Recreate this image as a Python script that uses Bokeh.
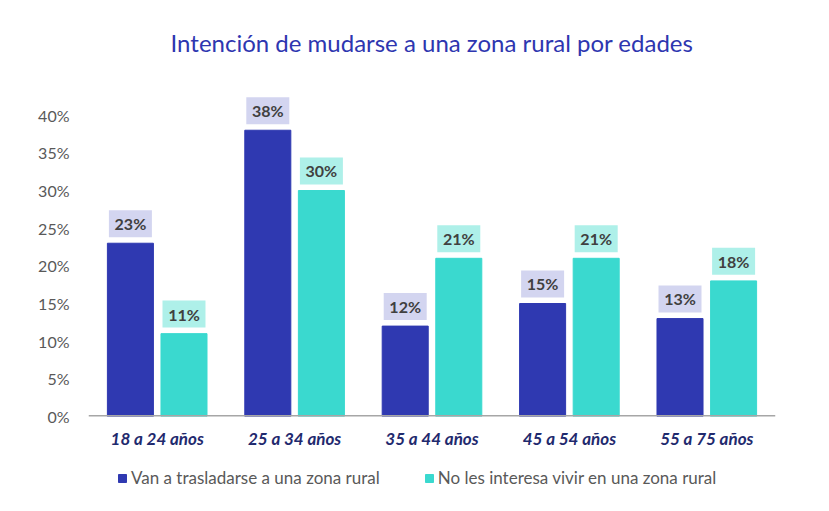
from bokeh.plotting import figure
from bokeh.layouts import column
from bokeh.models import ColumnDataSource, Legend, LegendItem, NumeralTickFormatter, FixedTicker, Title, Span
from bokeh.core.properties import value
from bokeh.embed import file_html
from bokeh.resources import INLINE

categories = ["18 a 24 años", "25 a 34 años", "35 a 44 años", "45 a 54 años", "55 a 75 años"]
van = [23, 38, 12, 15, 13]
no_interesa = [11, 30, 21, 21, 18]
series_names = ["Van a trasladarse a una zona rural", "No les interesa vivir en una zona rural"]
y_ticks = [0, 5, 10, 15, 20, 25, 30, 35, 40]
title_text = "Intención de mudarse a una zona rural por edades"

FONT = "Lato"
DARK = "#2F39B1"
TEAL = "#3AD9CF"
DARK_BOX = "#D3D5F0"
TEAL_BOX = "#AEF0E9"

idx = list(range(len(categories)))
off = 0.195
bw = 0.335
box_w = 0.313
lab_off = 0.026

p = figure(width=821, height=456, x_range=(-0.5, len(categories) - 0.5), y_range=(0, 0.45),
           output_backend="svg", toolbar_location=None,
           min_border_left=88, min_border_right=46, min_border_top=77, min_border_bottom=40)
p.frame_width = 687
p.frame_height = 339
p.outline_line_color = None
p.xgrid.visible = False
p.ygrid.visible = False

src1 = ColumnDataSource(dict(x=[i - off for i in idx], top=[v / 100 for v in van],
                             ly=[v / 100 + lab_off for v in van], txt=[f"{v}%" for v in van]))
src2 = ColumnDataSource(dict(x=[i + off for i in idx], top=[v / 100 for v in no_interesa],
                             ly=[v / 100 + lab_off for v in no_interesa], txt=[f"{v}%" for v in no_interesa]))

r1 = p.vbar(x="x", top="top", width=bw, source=src1, fill_color=DARK, line_color=DARK)
r2 = p.vbar(x="x", top="top", width=bw, source=src2, fill_color=TEAL, line_color=TEAL)

for src, col in ((src1, DARK_BOX), (src2, TEAL_BOX)):
    p.rect(x="x", y="ly", width=box_w, height=27, height_units="screen", source=src,
           fill_color=col, line_color=None)
    p.text(x="x", y="ly", text="txt", source=src, text_align="center", text_baseline="middle",
           text_font=value(FONT), text_font_style="bold", text_font_size="16px", text_color="#404040")

p.add_layout(Span(location=0, dimension="width", line_color="#A6A6A6", line_width=3))

p.yaxis.ticker = FixedTicker(ticks=[t / 100 for t in y_ticks])
p.yaxis.formatter = NumeralTickFormatter(format="0%")
p.yaxis.axis_line_color = None
p.yaxis.major_tick_line_color = None
p.yaxis.minor_tick_line_color = None
p.yaxis.major_label_text_font = FONT
p.yaxis.major_label_text_font_size = "16px"
p.yaxis.major_label_text_color = "#595959"
p.yaxis.major_label_standoff = 13

p.xaxis.ticker = FixedTicker(ticks=idx)
p.xaxis.major_label_overrides = {i: c for i, c in zip(idx, categories)}
p.xaxis.axis_line_color = None
p.xaxis.major_tick_line_color = None
p.xaxis.minor_tick_line_color = None
p.xaxis.major_label_text_font = FONT
p.xaxis.major_label_text_font_size = "17px"
p.xaxis.major_label_text_font_style = "bold italic"
p.xaxis.major_label_text_color = "#1F2A6E"
p.xaxis.major_label_standoff = 5

p.add_layout(Title(text=title_text, align="center", text_font=FONT, text_font_size="24px",
                   text_font_style="normal", text_color="#2E36B0", standoff=42), "above")

# legend strip
lg = figure(width=821, height=47, x_range=(0, 1), y_range=(0, 1), output_backend="svg",
            toolbar_location=None, min_border=0)
lg.axis.visible = False
lg.grid.visible = False
lg.outline_line_color = None
d1 = lg.vbar(x=[5], top=[0], width=0.1, fill_color=DARK, line_color=DARK)
d2 = lg.vbar(x=[5], top=[0], width=0.1, fill_color=TEAL, line_color=TEAL)
legend = Legend(items=[LegendItem(label=series_names[0], renderers=[d1]),
                       LegendItem(label=series_names[1], renderers=[d2])],
                orientation="horizontal", location=(29, 15), spacing=44,
                glyph_width=10, glyph_height=10, label_standoff=4, label_height=20,
                label_text_font=FONT, label_text_font_size="17px", label_text_color="#595959",
                border_line_color=None, background_fill_alpha=0, padding=0, margin=0)
lg.add_layout(legend, "center")

open("out.html", "w").write(file_html(column(p, lg), INLINE))
